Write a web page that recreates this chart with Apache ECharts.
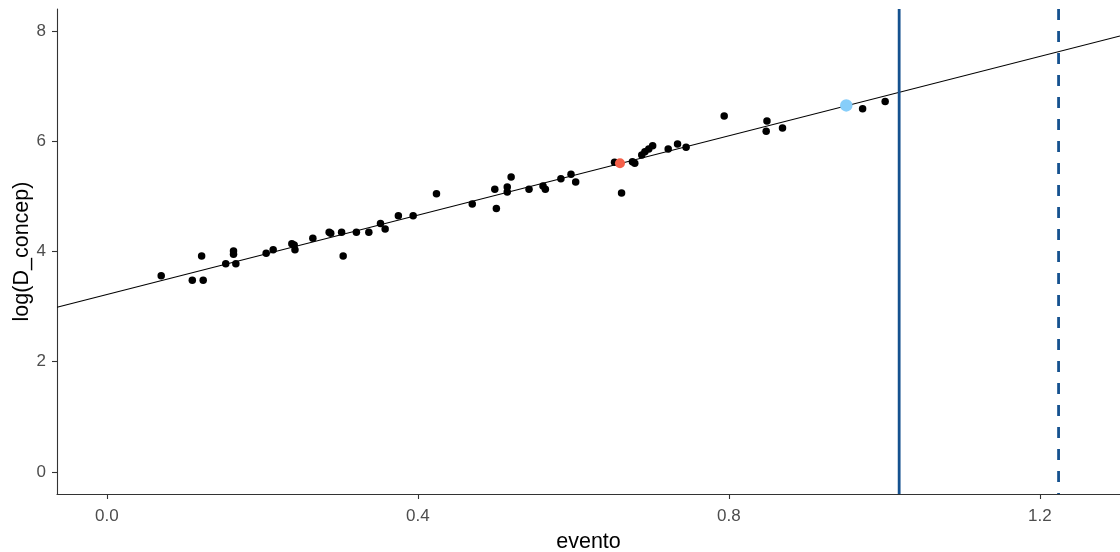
<!DOCTYPE html>
<html>
<head>
<meta charset="utf-8">
<script src="https://cdn.jsdelivr.net/npm/echarts@6/dist/echarts.min.js"></script>
<style>
  html, body { margin: 0; padding: 0; background: #ffffff; }
  #chart { width: 1120px; height: 552px; }
</style>
</head>
<body>
<div id="chart"></div>
<script>
// Observed events: evento vs log(D_concep)
const evento = [
  0.070, 0.110, 0.124, 0.122, 0.153, 0.163, 0.163, 0.166, 0.205, 0.214,
  0.238, 0.241, 0.242, 0.265, 0.286, 0.288, 0.302, 0.304, 0.321, 0.337,
  0.352, 0.358, 0.375, 0.394, 0.424, 0.470, 0.501, 0.499, 0.515, 0.515,
  0.520, 0.543, 0.561, 0.564, 0.584, 0.597, 0.603, 0.653, 0.662, 0.676,
  0.679, 0.688, 0.692, 0.697, 0.702, 0.722, 0.734, 0.745, 0.794, 0.849,
  0.848, 0.869, 0.972, 1.001
];
const logDConcep = [
  3.56, 3.48, 3.48, 3.92, 3.78, 4.01, 3.95, 3.78, 3.97, 4.03,
  4.14, 4.12, 4.03, 4.24, 4.35, 4.33, 4.35, 3.92, 4.35, 4.35,
  4.51, 4.41, 4.65, 4.65, 5.05, 4.86, 4.78, 5.13, 5.17, 5.08,
  5.35, 5.13, 5.19, 5.13, 5.32, 5.40, 5.26, 5.62, 5.06, 5.63,
  5.60, 5.75, 5.81, 5.86, 5.92, 5.86, 5.95, 5.89, 6.46, 6.37,
  6.18, 6.24, 6.59, 6.72
];

// Highlighted observations
const highlightRed = [0.660, 5.60];
const highlightBlue = [0.951, 6.65];

// Fitted line: log(D_concep) = intercept + slope * evento
const fitIntercept = 3.22;
const fitSlope = 3.60;

// Reference lines on evento
const solidRef = 1.019;
const dashedRef = 1.224;

// Axis ranges and ticks
const xRange = [-0.064, 1.303];
const yRange = [-0.4, 8.4];
const xTicks = [0.0, 0.4, 0.8, 1.2];
const yTicks = [0, 2, 4, 6, 8];

const points = evento.map((x, i) => [x, logDConcep[i]]);
const fitLine = xRange.map(x => [x, fitIntercept + fitSlope * x]);

const axisColor = '#333333';
const labelColor = '#4d4d4d';
const refColor = '#15518f';
const font = '"Liberation Sans", Arial, sans-serif';

const chart = echarts.init(document.getElementById('chart'), null, { renderer: 'canvas' });

chart.setOption({
  backgroundColor: '#ffffff',
  animation: false,
  grid: {
    left: 57, right: 0, top: 9, bottom: 58,
    containLabel: false,
    outerBoundsMode: 'none'
  },
  xAxis: {
    type: 'value',
    min: xRange[0],
    max: xRange[1],
    name: 'evento',
    nameLocation: 'middle',
    nameGap: 37,
    nameMoveOverlap: false,
    nameTextStyle: { fontFamily: font, fontSize: 21.5, color: '#000000' },
    splitLine: { show: false },
    axisLine: { show: true, onZero: false, lineStyle: { color: axisColor, width: 1.1 } },
    axisTick: { show: true, length: 5, customValues: xTicks, lineStyle: { color: axisColor, width: 1.1 } },
    axisLabel: {
      customValues: xTicks,
      margin: 14,
      fontFamily: font,
      fontSize: 17,
      color: labelColor,
      formatter: v => Number(v).toFixed(1)
    }
  },
  yAxis: {
    type: 'value',
    min: yRange[0],
    max: yRange[1],
    name: 'log(D_concep)',
    nameLocation: 'middle',
    nameRotate: 90,
    nameGap: 24,
    nameMoveOverlap: false,
    nameTextStyle: { fontFamily: font, fontSize: 21.5, color: '#000000' },
    splitLine: { show: false },
    axisLine: { show: true, onZero: false, lineStyle: { color: axisColor, width: 1.1 } },
    axisTick: { show: true, length: 5, customValues: yTicks, lineStyle: { color: axisColor, width: 1.1 } },
    axisLabel: {
      customValues: yTicks,
      margin: 11,
      fontFamily: font,
      fontSize: 17,
      color: labelColor,
      formatter: v => String(Math.round(v))
    }
  },
  series: [
    {
      type: 'line',
      data: fitLine,
      showSymbol: false,
      symbol: 'none',
      lineStyle: { color: '#000000', width: 1.1 },
      silent: true,
      z: 1
    },
    {
      type: 'scatter',
      data: points,
      symbol: 'circle',
      symbolSize: 7.5,
      itemStyle: { color: '#000000', opacity: 1 },
      z: 2
    },
    {
      type: 'scatter',
      data: [highlightRed],
      symbol: 'circle',
      symbolSize: 10,
      itemStyle: { color: '#f5604a', opacity: 1 },
      z: 3
    },
    {
      type: 'scatter',
      data: [highlightBlue],
      symbol: 'circle',
      symbolSize: 12.5,
      itemStyle: { color: '#87cefa', opacity: 1 },
      z: 3
    },
    {
      type: 'line',
      data: [[solidRef, yRange[1]], [solidRef, yRange[0]]],
      showSymbol: false,
      symbol: 'none',
      lineStyle: { color: refColor, width: 2.8 },
      silent: true,
      z: 4
    },
    {
      type: 'line',
      data: [[dashedRef, yRange[1]], [dashedRef, yRange[0]]],
      showSymbol: false,
      symbol: 'none',
      lineStyle: { color: refColor, width: 2.8, type: [11, 11] },
      silent: true,
      z: 4
    }
  ]
});
</script>
</body>
</html>
